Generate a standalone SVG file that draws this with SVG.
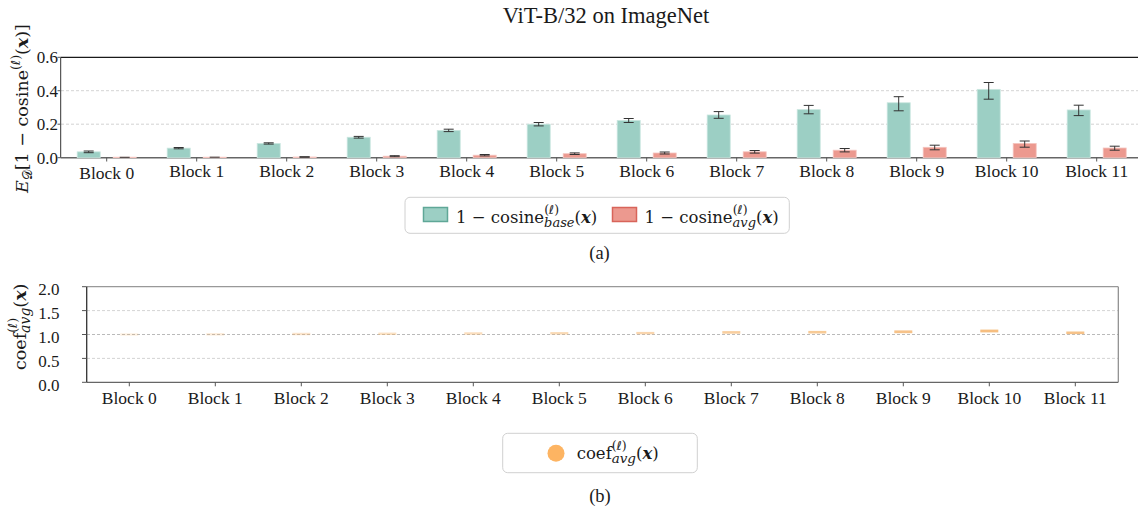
<svg xmlns="http://www.w3.org/2000/svg" width="1138" height="510" viewBox="0 0 1138 510">
  <style>
    .lbl { font-family: "Liberation Serif", "Times New Roman", serif; font-size: 17.5px; fill: #1a1a1a; }
    .tick { font-family: "Liberation Serif", "Times New Roman", serif; font-size: 17px; fill: #1a1a1a; }
    .math { font-family: "DejaVu Serif", "Liberation Serif", serif; font-size: 16px; fill: #1a1a1a; }
    .ell { font-family: "DejaVu Sans", "Noto Sans", sans-serif; font-size: 12.5px; }
    .grid { stroke: #c8c8c8; stroke-width: 0.8; stroke-dasharray: 3 2; fill: none; }
    .grid2 { stroke: #a8a8a8; stroke-width: 0.8; stroke-dasharray: 3 2; fill: none; }
    .tk { stroke: #555; stroke-width: 1; }
    .teal { fill: #9ccfc4; stroke: #c9e6df; stroke-width: 0.8; }
    .red { fill: #ec998f; stroke: #f5c4be; stroke-width: 0.8; }
    .err { stroke: #333; stroke-width: 1; fill: none; }
    .dash { fill: #f4b36a; }
    .legend { fill: #ffffff; stroke: #d0d0d0; stroke-width: 1; }
  </style>
  <defs>
    <filter id="soft" x="-20%" y="-100%" width="140%" height="300%">
      <feGaussianBlur stdDeviation="0.6"/>
    </filter>
  </defs>

  <!-- title -->
  <text class="lbl" x="606" y="22.7" text-anchor="middle" style="font-size:22.5px">ViT-B/32 on ImageNet</text>

  <!-- ===== upper panel: cosine distance per block ===== -->
  <g id="panel-a-axes">
    <line class="grid" x1="61" y1="124.2" x2="1138" y2="124.2"/>
    <line class="grid" x1="61" y1="90.7" x2="1138" y2="90.7"/>
    <line x1="60.7" y1="57.3" x2="1138" y2="57.3" stroke="#1a1a1a" stroke-width="1.2"/>
    <line x1="60.7" y1="57.3" x2="60.7" y2="157.7" stroke="#333" stroke-width="1"/>
    <line x1="60.7" y1="157.7" x2="1138" y2="157.7" stroke="#666" stroke-width="1.4"/>
    <g class="tk">
      <line x1="57.5" y1="57.3" x2="60.7" y2="57.3"/>
      <line x1="57.5" y1="90.7" x2="60.7" y2="90.7"/>
      <line x1="57.5" y1="124.2" x2="60.7" y2="124.2"/>
      <line x1="57.5" y1="157.7" x2="60.7" y2="157.7"/>
    </g>
    <g class="tick" text-anchor="end">
      <text x="58" y="63">0.6</text>
      <text x="58" y="96.5">0.4</text>
      <text x="58" y="130">0.2</text>
      <text x="58" y="163.5">0.0</text>
    </g>
    <g class="tk">
      <line x1="106.7" y1="157.7" x2="106.7" y2="161.5"/>
      <line x1="196.7" y1="157.7" x2="196.7" y2="161.5"/>
      <line x1="286.7" y1="157.7" x2="286.7" y2="161.5"/>
      <line x1="376.7" y1="157.7" x2="376.7" y2="161.5"/>
      <line x1="466.7" y1="157.7" x2="466.7" y2="161.5"/>
      <line x1="556.7" y1="157.7" x2="556.7" y2="161.5"/>
      <line x1="646.7" y1="157.7" x2="646.7" y2="161.5"/>
      <line x1="736.7" y1="157.7" x2="736.7" y2="161.5"/>
      <line x1="826.7" y1="157.7" x2="826.7" y2="161.5"/>
      <line x1="916.7" y1="157.7" x2="916.7" y2="161.5"/>
      <line x1="1006.7" y1="157.7" x2="1006.7" y2="161.5"/>
      <line x1="1096.7" y1="157.7" x2="1096.7" y2="161.5"/>
    </g>
    <g class="lbl" text-anchor="middle">
      <text x="106.7" y="179">Block 0</text>
      <text x="196.7" y="177.3">Block 1</text>
      <text x="286.7" y="177.3">Block 2</text>
      <text x="376.7" y="177.3">Block 3</text>
      <text x="466.7" y="177.3">Block 4</text>
      <text x="556.7" y="177.3">Block 5</text>
      <text x="646.7" y="177.3">Block 6</text>
      <text x="736.7" y="177.3">Block 7</text>
      <text x="826.7" y="177.3">Block 8</text>
      <text x="916.7" y="177.3">Block 9</text>
      <text x="1006.7" y="177.3">Block 10</text>
      <text x="1096.7" y="177.3">Block 11</text>
    </g>
    <g transform="translate(27.5,193) rotate(-90)">
      <text class="math" x="0" y="0" style="font-size:17.5px"><tspan font-style="italic">E</tspan><tspan dy="4" font-size="12.5">𝒟</tspan><tspan dy="-4">[1 − cosine</tspan><tspan dy="-8" font-size="12.5">(<tspan class="ell">ℓ</tspan>)</tspan><tspan dy="8">(</tspan><tspan font-weight="bold" font-style="italic">x</tspan><tspan>)]</tspan></text>
    </g>
  </g>

  <!-- bars: base (teal) and averaged (red), with error bars -->
  <g id="bars-base">
    <rect class="teal" x="77.2" y="151.84" width="23" height="5.86"/>
    <rect class="teal" x="167.2" y="148.15" width="23" height="9.55"/>
    <rect class="teal" x="257.2" y="143.46" width="23" height="14.24"/>
    <rect class="teal" x="347.2" y="137.26" width="23" height="20.44"/>
    <rect class="teal" x="437.2" y="130.4" width="23" height="27.3"/>
    <rect class="teal" x="527.2" y="124.2" width="23" height="33.5"/>
    <rect class="teal" x="617.2" y="120.51" width="23" height="37.19"/>
    <rect class="teal" x="707.2" y="114.99" width="23" height="42.71"/>
    <rect class="teal" x="797.2" y="109.63" width="23" height="48.07"/>
    <rect class="teal" x="887.2" y="102.76" width="23" height="54.94"/>
    <rect class="teal" x="977.2" y="89.36" width="23" height="68.34"/>
    <rect class="teal" x="1067.2" y="109.96" width="23" height="47.74"/>
  </g>
  <g id="bars-avg">
    <rect class="red" x="113.2" y="157.2" width="23" height="0.5"/>
    <rect class="red" x="203.2" y="157.2" width="23" height="0.5"/>
    <rect class="red" x="293.2" y="157.0" width="23" height="0.7"/>
    <rect class="red" x="383.2" y="156.2" width="23" height="1.5"/>
    <rect class="red" x="473.2" y="155.2" width="23" height="2.5"/>
    <rect class="red" x="563.2" y="153.7" width="23" height="4.0"/>
    <rect class="red" x="653.2" y="153.0" width="23" height="4.7"/>
    <rect class="red" x="743.2" y="151.8" width="23" height="5.9"/>
    <rect class="red" x="833.2" y="150.2" width="23" height="7.5"/>
    <rect class="red" x="923.2" y="147.3" width="23" height="10.4"/>
    <rect class="red" x="1013.2" y="143.5" width="23" height="14.2"/>
    <rect class="red" x="1103.2" y="148.0" width="23" height="9.7"/>
  </g>
  <g id="errorbars" class="err">
    <!-- base -->
    <path d="M88.7 151 V152.7 M83.7 151 H93.7 M83.7 152.7 H93.7"/>
    <path d="M178.7 147.5 V148.8 M173.7 147.5 H183.7 M173.7 148.8 H183.7"/>
    <path d="M268.7 142.8 V144.1 M263.7 142.8 H273.7 M263.7 144.1 H273.7"/>
    <path d="M358.7 136.4 V138.1 M353.7 136.4 H363.7 M353.7 138.1 H363.7"/>
    <path d="M448.7 129.2 V131.6 M443.7 129.2 H453.7 M443.7 131.6 H453.7"/>
    <path d="M538.7 122.5 V125.9 M533.7 122.5 H543.7 M533.7 125.9 H543.7"/>
    <path d="M628.7 118.5 V122.5 M623.7 118.5 H633.7 M623.7 122.5 H633.7"/>
    <path d="M718.7 111.6 V118.3 M713.7 111.6 H723.7 M713.7 118.3 H723.7"/>
    <path d="M808.7 105.4 V113.8 M803.7 105.4 H813.7 M803.7 113.8 H813.7"/>
    <path d="M898.7 96.7 V110.8 M893.7 96.7 H903.7 M893.7 110.8 H903.7"/>
    <path d="M988.7 82.5 V99.2 M983.7 82.5 H993.7 M983.7 99.2 H993.7"/>
    <path d="M1078.7 105.2 V115.6 M1073.7 105.2 H1083.7 M1073.7 115.6 H1083.7"/>
    <!-- averaged -->
    <path d="M119.7 157.3 H129.7"/>
    <path d="M209.7 157.2 H219.7"/>
    <path d="M299.7 156.7 V157.3 M299.7 156.7 H309.7 M299.7 157.3 H309.7"/>
    <path d="M394.7 155.7 V156.7 M389.7 155.7 H399.7 M389.7 156.7 H399.7"/>
    <path d="M484.7 154.5 V155.9 M479.7 154.5 H489.7 M479.7 155.9 H489.7"/>
    <path d="M574.7 152.9 V154.5 M569.7 152.9 H579.7 M569.7 154.5 H579.7"/>
    <path d="M664.7 152.0 V154.0 M659.7 152.0 H669.7 M659.7 154.0 H669.7"/>
    <path d="M754.7 150.5 V153.1 M749.7 150.5 H759.7 M749.7 153.1 H759.7"/>
    <path d="M844.7 148.5 V151.9 M839.7 148.5 H849.7 M839.7 151.9 H849.7"/>
    <path d="M934.7 145.2 V149.8 M929.7 145.2 H939.7 M929.7 149.8 H939.7"/>
    <path d="M1024.7 141.0 V147.2 M1019.7 141.0 H1029.7 M1019.7 147.2 H1029.7"/>
    <path d="M1114.7 146.2 V150.2 M1109.7 146.2 H1119.7 M1109.7 150.2 H1119.7"/>
  </g>

  <!-- legend (a) -->
  <g id="legend-a">
    <rect class="legend" x="405" y="197.3" width="384.3" height="36" rx="5"/>
    <rect x="423.5" y="207.5" width="24" height="14" fill="#9ccfc4" stroke="#5fa797" stroke-width="1.5"/>
    <text class="math" x="456" y="223" style="font-size:16.5px">1 − cosine<tspan dy="-9" font-size="12.5">(<tspan class="ell">ℓ</tspan>)</tspan><tspan dx="-15" dy="13" font-size="13" font-style="italic">base</tspan><tspan dy="-4">(</tspan><tspan font-weight="bold" font-style="italic">x</tspan><tspan>)</tspan></text>
    <rect x="612.5" y="207.5" width="24" height="14" fill="#ec998f" stroke="#d8645a" stroke-width="1.5"/>
    <text class="math" x="644.5" y="223" style="font-size:16.5px">1 − cosine<tspan dy="-9" font-size="12.5">(<tspan class="ell">ℓ</tspan>)</tspan><tspan dx="-15" dy="13" font-size="13" font-style="italic">avg</tspan><tspan dy="-4">(</tspan><tspan font-weight="bold" font-style="italic">x</tspan><tspan>)</tspan></text>
  </g>
  <text class="lbl" x="599.5" y="258.5" text-anchor="middle" style="font-size:18.5px">(a)</text>

  <!-- ===== lower panel: averaging coefficient per block ===== -->
  <g id="panel-b-axes">
    <line class="grid" x1="87" y1="310.6" x2="1118.3" y2="310.6"/>
    <line class="grid2" x1="87" y1="334.5" x2="1118.3" y2="334.5"/>
    <line class="grid" x1="87" y1="358.4" x2="1118.3" y2="358.4"/>
    <line x1="86.7" y1="286.7" x2="1118.3" y2="286.7" stroke="#999" stroke-width="1.2"/>
    <line x1="1118.3" y1="286.7" x2="1118.3" y2="382.3" stroke="#888" stroke-width="1.2"/>
    <line x1="86.7" y1="382.3" x2="1118.3" y2="382.3" stroke="#666" stroke-width="1.2"/>
    <line x1="86.7" y1="286.7" x2="86.7" y2="382.3" stroke="#333" stroke-width="1.3"/>
    <g class="tk">
      <line x1="82" y1="286.7" x2="86.7" y2="286.7"/>
      <line x1="82" y1="310.6" x2="86.7" y2="310.6"/>
      <line x1="82" y1="334.5" x2="86.7" y2="334.5"/>
      <line x1="82" y1="358.4" x2="86.7" y2="358.4"/>
      <line x1="82" y1="382.3" x2="86.7" y2="382.3"/>
    </g>
    <g class="tick" text-anchor="end">
      <text x="59.5" y="295">2.0</text>
      <text x="59.5" y="318.9">1.5</text>
      <text x="59.5" y="342.8">1.0</text>
      <text x="59.5" y="366.7">0.5</text>
      <text x="59.5" y="390.6">0.0</text>
    </g>
    <g class="tk">
      <line x1="129.3" y1="382.3" x2="129.3" y2="386.3"/>
      <line x1="215.3" y1="382.3" x2="215.3" y2="386.3"/>
      <line x1="301.3" y1="382.3" x2="301.3" y2="386.3"/>
      <line x1="387.3" y1="382.3" x2="387.3" y2="386.3"/>
      <line x1="473.3" y1="382.3" x2="473.3" y2="386.3"/>
      <line x1="559.3" y1="382.3" x2="559.3" y2="386.3"/>
      <line x1="645.3" y1="382.3" x2="645.3" y2="386.3"/>
      <line x1="731.3" y1="382.3" x2="731.3" y2="386.3"/>
      <line x1="817.3" y1="382.3" x2="817.3" y2="386.3"/>
      <line x1="903.3" y1="382.3" x2="903.3" y2="386.3"/>
      <line x1="989.3" y1="382.3" x2="989.3" y2="386.3"/>
      <line x1="1075.3" y1="382.3" x2="1075.3" y2="386.3"/>
    </g>
    <g class="lbl" text-anchor="middle">
      <text x="129.3" y="404">Block 0</text>
      <text x="215.3" y="404">Block 1</text>
      <text x="301.3" y="404">Block 2</text>
      <text x="387.3" y="404">Block 3</text>
      <text x="473.3" y="404">Block 4</text>
      <text x="559.3" y="404">Block 5</text>
      <text x="645.3" y="404">Block 6</text>
      <text x="731.3" y="404">Block 7</text>
      <text x="817.3" y="404">Block 8</text>
      <text x="903.3" y="404">Block 9</text>
      <text x="989.3" y="404">Block 10</text>
      <text x="1075.3" y="404">Block 11</text>
    </g>
    <g transform="translate(26,370) rotate(-90)">
      <text class="math" x="0" y="0" style="font-size:17.5px">coef<tspan dy="-9" font-size="12.5">(<tspan class="ell">ℓ</tspan>)</tspan><tspan dx="-15" dy="13" font-size="14" font-style="italic">avg</tspan><tspan dy="-4">(</tspan><tspan font-weight="bold" font-style="italic">x</tspan><tspan>)</tspan></text>
    </g>
  </g>

  <!-- coefficient marks -->
  <g id="coef-marks" filter="url(#soft)">
    <rect class="dash" x="120.3" y="333.3" width="18" height="2.4" opacity="0.2"/>
    <rect class="dash" x="206.3" y="333.1" width="18" height="2.4" opacity="0.25"/>
    <rect class="dash" x="292.3" y="332.8" width="18" height="2.4" opacity="0.35"/>
    <rect class="dash" x="378.3" y="332.6" width="18" height="2.4" opacity="0.4"/>
    <rect class="dash" x="464.3" y="332.3" width="18" height="2.4" opacity="0.45"/>
    <rect class="dash" x="550.3" y="332.1" width="18" height="2.4" opacity="0.5"/>
    <rect class="dash" x="636.3" y="331.9" width="18" height="2.4" opacity="0.55"/>
    <rect class="dash" x="722.3" y="331.1" width="18" height="2.6" opacity="0.65"/>
    <rect class="dash" x="808.3" y="330.9" width="18" height="2.6" opacity="0.7"/>
    <rect class="dash" x="894.3" y="330.4" width="18" height="2.8" opacity="0.8"/>
    <rect class="dash" x="980.3" y="329.6" width="18" height="2.8" opacity="0.85"/>
    <rect class="dash" x="1066.3" y="331.5" width="18" height="2.6" opacity="0.8"/>
  </g>

  <!-- legend (b) -->
  <g id="legend-b">
    <rect class="legend" x="502.7" y="433.3" width="194.6" height="39.4" rx="5"/>
    <circle cx="556" cy="453.3" r="8.5" fill="#fdb462"/>
    <text class="math" x="576.7" y="459.3" style="font-size:16.5px">coef<tspan dy="-9" font-size="12.5">(<tspan class="ell">ℓ</tspan>)</tspan><tspan dx="-15" dy="13" font-size="13.5" font-style="italic">avg</tspan><tspan dy="-4">(</tspan><tspan font-weight="bold" font-style="italic">x</tspan><tspan>)</tspan></text>
  </g>
  <text class="lbl" x="600" y="501.7" text-anchor="middle" style="font-size:18.5px">(b)</text>
</svg>
